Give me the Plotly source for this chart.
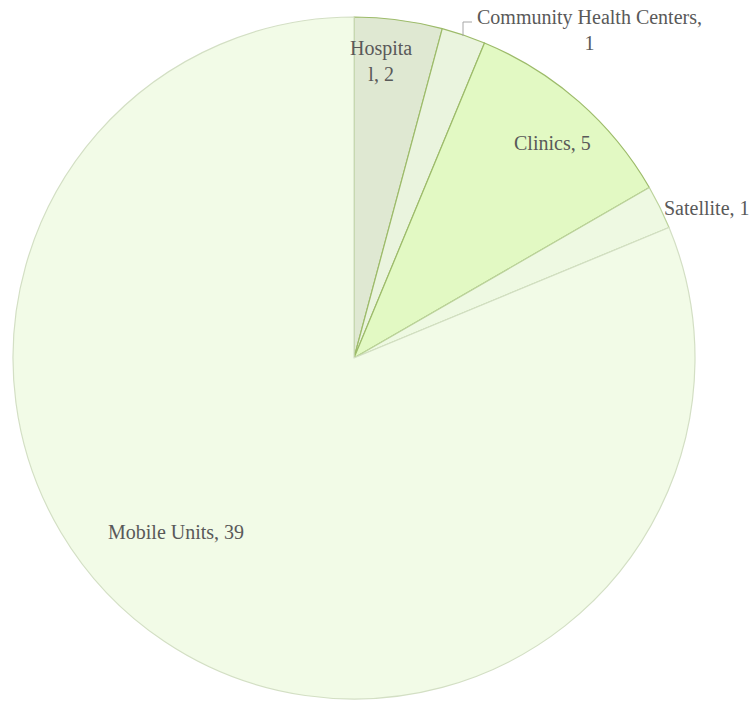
import plotly.graph_objects as go

W, H = 751, 702

labels = ["Hospital", "Community Health Centers", "Clinics", "Satellite", "Mobile Units"]
values = [2, 1, 5, 1, 39]

fill_colors = ["#dfe8d2", "#eaf4de", "#e2f9c3", "#eef9e2", "#f2fbe7"]
line_colors = ["#9dbb6a", "#9dbb6a", "#9dbb6a", "#bcd39c", "#d3dfc4"]

# label text: value appended; wrapped like the original
texts = [f"{l}, {v}" for l, v in zip(labels, values)]
texts[0] = texts[0][:7] + "<br>" + texts[0][7:]
texts[1] = texts[1].replace(", ", ",<br>")

# label anchor positions (page pixels) and anchors
label_pos = [(381, 61), (589, 30), (552, 143), (662, 208), (176, 532)]
label_anchor = ["center", "center", "center", "left", "center"]


def fx(px):
    return px / W


def fy(py):
    return 1 - py / H


fig = go.Figure(go.Pie(
    labels=labels,
    values=values,
    sort=False,
    direction="clockwise",
    rotation=0,
    textinfo="none",
    hoverinfo="skip",
    marker=dict(colors=fill_colors, line=dict(color=line_colors, width=1.2)),
    domain=dict(x=[fx(13), fx(695)], y=[fy(699), fy(17)]),
    showlegend=False,
))

for t, (px, py), anc in zip(texts, label_pos, label_anchor):
    fig.add_annotation(
        x=fx(px), y=fy(py), xref="paper", yref="paper",
        text=t, showarrow=False, xanchor=anc, yanchor="middle",
        font=dict(family="Liberation Serif, Times New Roman, serif", size=20, color="#595959"),
    )

# leader line for Community Health Centers
fig.add_shape(type="path", xref="paper", yref="paper",
              path=f"M {fx(463)} {fy(36)} L {fx(463)} {fy(22)} L {fx(472)} {fy(22)}",
              line=dict(color="#a6a6a6", width=1))

fig.update_layout(
    width=W, height=H,
    margin=dict(l=0, r=0, t=0, b=0),
    paper_bgcolor="white", plot_bgcolor="white",
)

fig.write_html(
    "out.html",
    config={"displayModeBar": False},
    post_script="document.body.style.margin='0';document.body.style.overflow='hidden';",
)
